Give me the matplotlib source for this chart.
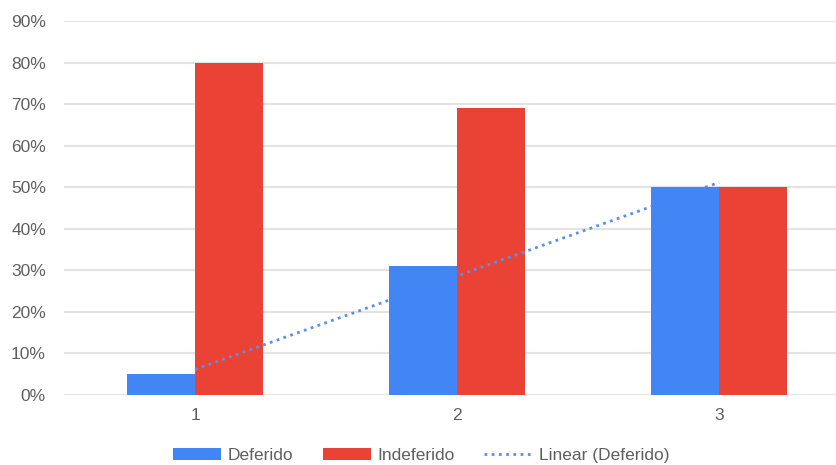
import numpy as np
import matplotlib.pyplot as plt
from matplotlib.ticker import PercentFormatter
from matplotlib.patches import Patch
from matplotlib.lines import Line2D

plt.rcParams['font.family'] = ['Liberation Sans', 'DejaVu Sans']

categories = [1, 2, 3]
deferido = [0.05, 0.31, 0.50]
indeferido = [0.80, 0.69, 0.50]

BLUE = '#4285F4'
RED = '#EA4335'
GRID = '#E3E3E3'

fig = plt.figure(figsize=(8.37, 4.65), dpi=100)
ax = fig.add_axes([0.0765, 0.1505, 0.9235, 0.8043])

x = np.array(categories, dtype=float)
w = 0.26
ax.bar(x - w / 2, deferido, width=w, color=BLUE, zorder=4)
ax.bar(x + w / 2, indeferido, width=w, color=RED, zorder=2)

# linear trend of the Deferido series
slope, intercept = np.polyfit(x, deferido, 1)
ax.plot(x, slope * x + intercept, linestyle=(0, (1, 1.6)), color='#5B8FEF',
        linewidth=2, zorder=3)

ax.set_xlim(0.5, 3.45)
ax.set_ylim(0, 0.9)
ax.set_yticks(np.arange(0, 0.91, 0.1))
ax.yaxis.set_major_formatter(PercentFormatter(1.0, decimals=0))
ax.set_xticks(x)
ax.set_xticklabels([str(c) for c in categories])

ax.grid(axis='y', color=GRID, linewidth=1.5, zorder=0)
ax.set_axisbelow(True)
for s in ax.spines.values():
    s.set_visible(False)
ax.tick_params(axis='both', length=0, labelsize=12.5, colors='#5F5F5F')
ax.tick_params(axis='y', pad=13)
ax.tick_params(axis='x', pad=9)

handles = [
    Patch(facecolor=BLUE, label='Deferido'),
    Patch(facecolor=RED, label='Indeferido'),
    Line2D([], [], color='#5B8FEF', linestyle=(0, (1, 1.6)), linewidth=2,
           label='Linear (Deferido)'),
]
fig.legend(handles=handles, loc='center', bbox_to_anchor=(0.503, 0.02),
           ncol=3, frameon=False, fontsize=12.5, handlelength=2.8,
           handleheight=0.65, handletextpad=0.35, columnspacing=1.7,
           labelcolor='#5F5F5F')

fig.savefig('out.png', dpi=100, facecolor='white')
